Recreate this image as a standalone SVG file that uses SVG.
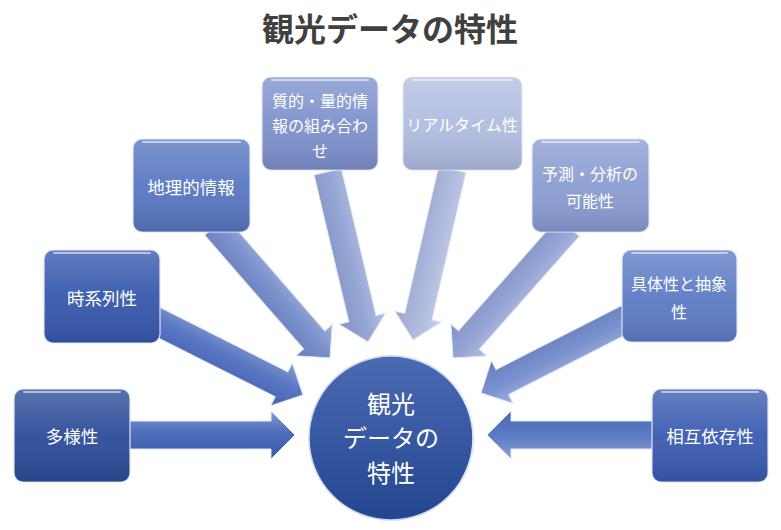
<svg xmlns="http://www.w3.org/2000/svg" width="781" height="530" viewBox="0 0 781 530">
<style>
.title{font-family:"Noto Sans CJK JP","Noto Sans",sans-serif;font-weight:700;font-size:32px;fill:#404040;text-anchor:middle}
.lbl{font-family:"Noto Sans CJK JP","Noto Sans",sans-serif;font-size:17.5px;fill:#ffffff;text-anchor:middle;dominant-baseline:central}
.lbs{font-family:"Noto Sans CJK JP","Noto Sans",sans-serif;font-size:16px;fill:#ffffff;text-anchor:middle;dominant-baseline:central}
.clbl{font-family:"Noto Sans CJK JP","Noto Sans",sans-serif;font-size:24px;fill:#ffffff;text-anchor:middle;dominant-baseline:central}
.box{stroke:#dfe7fa;stroke-width:1.2}
.sheen{fill:url(#boxSheen)}
.hl{fill:none;stroke:#ffffff;stroke-opacity:0.55;stroke-width:2;stroke-linecap:round}
.arr{stroke:#e2eafb;stroke-width:1}
.asheen{fill:url(#arrSheen)}
</style>
<defs>
<linearGradient id="boxSheen" x1="0" y1="0" x2="0" y2="1">
<stop offset="0" stop-color="#ffffff" stop-opacity="0.22"/>
<stop offset="0.5" stop-color="#ffffff" stop-opacity="0.05"/>
<stop offset="1" stop-color="#000020" stop-opacity="0.12"/>
</linearGradient>
<linearGradient id="arrSheen" gradientUnits="userSpaceOnUse" x1="0" y1="-24" x2="0" y2="24">
<stop offset="0" stop-color="#ffffff" stop-opacity="0.35"/>
<stop offset="0.45" stop-color="#ffffff" stop-opacity="0.08"/>
<stop offset="1" stop-color="#000020" stop-opacity="0.08"/>
</linearGradient>
<linearGradient id="circG" x1="0" y1="0" x2="0" y2="1">
<stop offset="0" stop-color="#4a6bb2"/>
<stop offset="1" stop-color="#24468f"/>
</linearGradient>
<polygon id="arrow" points="-175,-14 -24,-14 -24,-24 0,0 -24,24 -24,14 -175,14"/>
</defs>

<text class="title" x="390" y="41">観光データの特性</text>

<g id="connectors">
<g transform="translate(295,435)"><use href="#arrow" class="arr" fill="#3e62b6"/><use href="#arrow" class="asheen"/></g>
<g transform="translate(487,435) rotate(180)"><use href="#arrow" class="arr" fill="#4f71c0"/><use href="#arrow" class="asheen"/></g>
<g transform="translate(303,395) rotate(26.7)"><use href="#arrow" class="arr" fill="#4b6cbd"/><use href="#arrow" class="asheen"/></g>
<g transform="translate(330,358) rotate(49)"><use href="#arrow" class="arr" fill="#6f88c8"/><use href="#arrow" class="asheen"/></g>
<g transform="translate(368,342) rotate(76.7)"><use href="#arrow" class="arr" fill="#8d9fd2"/><use href="#arrow" class="asheen"/></g>
<g transform="translate(413,340) rotate(103)"><use href="#arrow" class="arr" fill="#a8b5dc"/><use href="#arrow" class="asheen"/></g>
<g transform="translate(453,358) rotate(131.5)"><use href="#arrow" class="arr" fill="#8c9dd1"/><use href="#arrow" class="asheen"/></g>
<g transform="translate(481,393) rotate(153)"><use href="#arrow" class="arr" fill="#6f88cb"/><use href="#arrow" class="asheen"/></g>
</g>

<g id="node-tayousei">
<rect class="box" x="14" y="389" width="116" height="93" rx="9" fill="#2c4c98"/>
<rect class="sheen" x="14" y="389" width="116" height="93" rx="9"/>
<line class="hl" x1="24" y1="392" x2="120" y2="392"/>
<text class="lbl" x="72" y="435">多様性</text>
</g>

<g id="node-jikeiretsu">
<rect class="box" x="44" y="250" width="116" height="93" rx="9" fill="#3658ac"/>
<rect class="sheen" x="44" y="250" width="116" height="93" rx="9"/>
<line class="hl" x1="54" y1="253" x2="150" y2="253"/>
<text class="lbl" x="102" y="297">時系列性</text>
</g>

<g id="node-chiri">
<rect class="box" x="133" y="139" width="117" height="93" rx="9" fill="#5877c1"/>
<rect class="sheen" x="133" y="139" width="117" height="93" rx="9"/>
<line class="hl" x1="143" y1="142" x2="240" y2="142"/>
<text class="lbl" x="191" y="186">地理的情報</text>
</g>

<g id="node-shitsuteki">
<rect class="box" x="262" y="77" width="116" height="93" rx="9" fill="#7d91cc"/>
<rect class="sheen" x="262" y="77" width="116" height="93" rx="9"/>
<line class="hl" x1="272" y1="80" x2="368" y2="80"/>
<text class="lbs" x="320" y="100">質的・量的情</text>
<text class="lbs" x="320" y="125">報の組み合わ</text>
<text class="lbs" x="320" y="150">せ</text>
</g>

<g id="node-realtime">
<rect class="box" x="403" y="77" width="119" height="93" rx="9" fill="#b1bde0"/>
<rect class="sheen" x="403" y="77" width="119" height="93" rx="9"/>
<line class="hl" x1="413" y1="80" x2="512" y2="80"/>
<text class="lbs" x="462" y="124">リアルタイム性</text>
</g>

<g id="node-yosoku">
<rect class="box" x="532" y="139" width="117" height="93" rx="9" fill="#8a9cd1"/>
<rect class="sheen" x="532" y="139" width="117" height="93" rx="9"/>
<line class="hl" x1="542" y1="142" x2="639" y2="142"/>
<text class="lbs" x="590" y="173">予測・分析の</text>
<text class="lbs" x="590" y="200">可能性</text>
</g>

<g id="node-gutai">
<rect class="box" x="622" y="250" width="115" height="92" rx="9" fill="#5e7cc5"/>
<rect class="sheen" x="622" y="250" width="115" height="92" rx="9"/>
<line class="hl" x1="632" y1="253" x2="727" y2="253"/>
<text class="lbs" x="679" y="283">具体性と抽象</text>
<text class="lbs" x="679" y="311">性</text>
</g>

<g id="node-sougo">
<rect class="box" x="652" y="389" width="116" height="93" rx="9" fill="#3a5bb0"/>
<rect class="sheen" x="652" y="389" width="116" height="93" rx="9"/>
<line class="hl" x1="662" y1="392" x2="758" y2="392"/>
<text class="lbl" x="710" y="435">相互依存性</text>
</g>

<g id="node-center">
<circle cx="391" cy="438" r="82" fill="url(#circG)" stroke="#c9d7f5" stroke-width="1.5"/>
<path d="M 455 386 A 82 82 0 0 1 462 480" fill="none" stroke="#e6eeff" stroke-opacity="0.6" stroke-width="2.5"/>
<text class="clbl" x="391" y="402">観光</text>
<text class="clbl" x="391" y="436">データの</text>
<text class="clbl" x="391" y="471">特性</text>
</g>
</svg>
